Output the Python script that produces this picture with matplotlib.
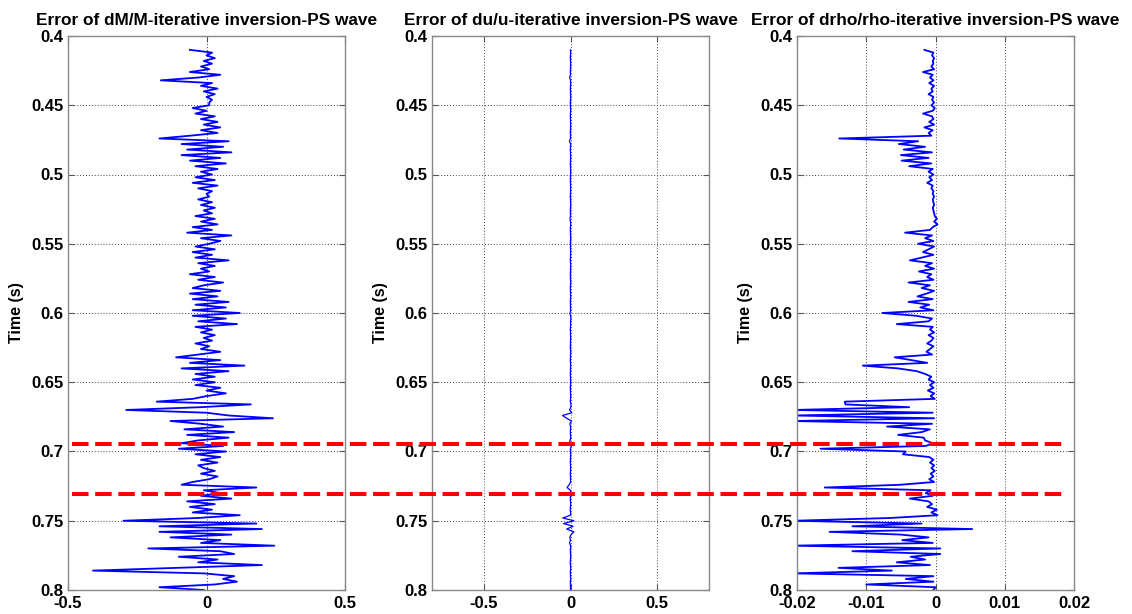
import numpy as np
import matplotlib
matplotlib.use("Agg")
import matplotlib.pyplot as plt
from matplotlib.lines import Line2D
from matplotlib.transforms import blended_transform_factory
from matplotlib.ticker import FormatStrFormatter

plt.rcParams['font.family'] = ['Liberation Sans', 'DejaVu Sans']
plt.rcParams['font.weight'] = 'bold'

t_start = 0.41
t_step = 0.002

titles = ["Error of dM/M-iterative inversion-PS wave",
          "Error of du/u-iterative inversion-PS wave",
          "Error of drho/rho-iterative inversion-PS wave"]

dM_err = [
    -0.06, 0.02, 0.00, 0.03, -0.01, 0.02, -0.02, 0.01, -0.06, 0.05,
    -0.03, -0.165, 0.02, -0.02, 0.04, -0.01, 0.03, 0.00, 0.02, 0.01,
    0.01, -0.05, 0.00, -0.04, 0.03, -0.02, 0.04, -0.01, 0.05, -0.02,
    0.04, -0.06, -0.17, 0.08, -0.09, 0.06, -0.07, 0.09, -0.09, 0.05,
    -0.06, 0.07, -0.04, 0.04, -0.02, 0.02, -0.04, 0.03, -0.05, 0.04,
    -0.03, 0.02, 0.00, 0.01, -0.03, 0.02, -0.02, 0.03, -0.01, 0.02,
    -0.04, 0.03, -0.02, 0.04, -0.05, 0.02, -0.07, 0.09, -0.02, 0.05,
    0.01, -0.04, 0.03, -0.05, 0.02, -0.04, 0.08, -0.03, 0.03, -0.02,
    0.01, -0.06, 0.03, -0.03, 0.06, -0.01, -0.05, 0.05, -0.06, 0.04,
    -0.05, 0.08, -0.04, 0.07, -0.05, 0.12, -0.05, 0.07, -0.03, 0.11,
    -0.04, 0.02, -0.02, 0.03, -0.01, 0.02, -0.04, 0.01, -0.02, 0.05,
    -0.03, -0.11, 0.05, -0.06, 0.137, -0.09, 0.08, -0.04, 0.03, -0.05,
    0.03, -0.04, 0.05, 0.00, 0.07, 0.00, -0.05, -0.18, 0.16, -0.02,
    -0.29, 0.00, 0.08, 0.24, -0.13, -0.02, 0.06, -0.08, 0.10, -0.07,
    0.08, -0.03, -0.09, 0.06, -0.10, 0.07, -0.04, 0.05, -0.02, 0.04,
    -0.03, -0.01, 0.03, -0.02, 0.04, 0.01, -0.05, -0.09, 0.18, -0.01,
    0.05, -0.02, 0.09, -0.07, 0.03, -0.06, 0.02, -0.05, 0.12, -0.03,
    -0.30, 0.18, -0.17, 0.20, -0.17, 0.09, -0.13, 0.05, -0.02, 0.245,
    -0.21, 0.05, 0.10, -0.10, 0.04, -0.03, 0.20, -0.10, -0.41, -0.01,
    0.10, 0.06, 0.11, 0.03, -0.17, -0.01,
]

du_err = [
    0.000, 0.001, 0.000, -0.001, 0.000, 0.001, 0.000, 0.000, -0.001, 0.000,
    -0.005, 0.000, 0.001, 0.000, -0.001, 0.000, 0.000, 0.001, 0.000, -0.001,
    0.000, 0.000, 0.001, 0.000, -0.001, 0.000, 0.000, 0.001, 0.000, 0.000,
    -0.001, 0.000, 0.000, -0.006, 0.001, 0.000, -0.001, 0.000, 0.000, 0.001,
    0.000, -0.001, 0.000, 0.000, 0.001, 0.000, 0.000, -0.001, 0.000, 0.000,
    0.001, 0.000, 0.000, -0.001, 0.000, 0.000, 0.001, 0.000, -0.001, 0.000,
    0.000, -0.003, 0.000, 0.001, 0.000, -0.001, 0.000, 0.000, 0.001, 0.000,
    -0.001, 0.000, 0.000, 0.001, 0.000, 0.000, -0.001, 0.000, 0.001, 0.000,
    0.000, -0.001, 0.000, 0.000, 0.001, 0.000, -0.001, 0.000, 0.000, 0.001,
    0.000, -0.001, 0.000, 0.000, 0.001, -0.003, 0.000, 0.003, 0.000, 0.001,
    0.000, -0.001, 0.000, 0.000, 0.001, 0.000, 0.000, -0.001, 0.000, 0.001,
    0.000, 0.000, -0.001, 0.000, 0.001, 0.000, 0.000, -0.001, 0.000, 0.000,
    0.001, 0.000, -0.001, 0.000, 0.000, 0.001, 0.000, -0.001, 0.003, 0.002,
    -0.006, 0.008, -0.046, -0.022, 0.006, -0.004, 0.001, 0.000, -0.001, 0.000,
    0.001, -0.002, -0.008, 0.004, 0.000, -0.001, 0.001, 0.000, 0.000, -0.001,
    0.000, 0.001, 0.000, -0.001, 0.000, 0.000, 0.001, -0.008, -0.020, 0.000,
    0.002, 0.000, -0.001, 0.000, 0.001, 0.000, -0.002, 0.001, 0.000, -0.045,
    0.020, -0.040, 0.015, -0.022, 0.020, 0.003, -0.004, 0.000, -0.006, 0.001,
    0.000, -0.001, 0.000, 0.001, 0.000, -0.002, 0.000, 0.001, 0.000, -0.001,
    0.000, 0.001, -0.001, 0.000, 0.000, 0.000,
]

# drho/rho error in units of 1e-3
drho_err_milli = [
    -1.6, -0.3, -0.5, -0.2, -0.4, -0.3, -0.6, -0.2, -1.8, -0.4,
    -0.8, -0.3, -0.9, -0.2, -0.6, -0.4, -1.0, -0.3, -0.5, -0.2,
    -0.6, -0.1, -0.4, -1.8, -0.5, -0.3, -0.9, -0.2, -1.6, -0.4,
    -1.0, -0.6, -13.9, -2.5, -5.3, -1.5, -4.6, -0.5, -5.0, -1.0,
    -4.9, -0.6, -3.8, -0.4, -1.0, -0.3, -0.9, -0.5, -1.2, -0.4,
    -0.6, -0.3, -0.4, -0.2, -0.4, -0.3, -0.2, -0.4, -0.3, -0.2,
    -0.1, 0.2, -0.2, 0.3, -0.4, -0.8, -4.4, -0.5, -1.5, -0.3,
    -2.5, -0.2, -1.0, -1.8, -0.3, -2.0, -3.7, -0.5, -1.5, -0.2,
    -2.4, -0.6, -1.2, -0.3, -3.9, -0.8, -2.0, -0.2, -1.3, -2.6,
    -0.4, -3.9, -0.9, -2.2, -0.3, -7.7, -2.8, -0.5, -1.0, -5.6,
    -0.4, -0.8, -0.2, -1.0, -0.3, -0.6, -1.2, -0.3, -0.8, -1.3,
    -0.5, -5.9, -3.5, -1.2, -10.5, -5.4, -2.7, -1.5, -0.6, -1.0,
    -0.2, -0.8, -0.3, -1.1, -0.2, -0.7, -0.1, -13.1, -13.0, -3.8,
    -20.5, -0.4, -20.5, -0.2, -20.5, -0.5, -7.0, -0.8, -2.0, -5.4,
    -1.7, -1.5, -0.4, -1.4, -16.6, -4.3, -4.7, -0.9, -0.3, -0.8,
    -0.2, -0.6, -0.1, -0.7, -0.3, -0.9, -0.2, -5.0, -16.0, -0.7,
    -1.4, -0.4, -3.7, -1.0, -0.5, -1.2, 0.2, -0.6, 0.3, -6.5,
    -20.5, -2.0, -12.0, 5.3, -15.3, -5.0, -1.0, -4.8, -0.4, -20.5,
    0.7, -12.0, 0.7, -3.6, -1.5, -5.6, -0.8, -14.0, -6.3, -20.5,
    -0.3, -4.3, -0.3, -10.0, 0.0, -0.3,
]

boundary_times = [0.6946, 0.7307]

y_ticks = [0.4, 0.45, 0.5, 0.55, 0.6, 0.65, 0.7, 0.75, 0.8]
x_ticks = [[-0.5, 0, 0.5], [-0.5, 0, 0.5], [-0.02, -0.01, 0, 0.01, 0.02]]
x_lims = [(-0.5, 0.5), (-0.8, 0.8), (-0.02, 0.02)]

series = [np.array(dM_err), np.array(du_err), np.array(drho_err_milli) * 1e-3]
line_widths = [1.3, 0.9, 1.3]

W, H = 1132, 614
fig = plt.figure(figsize=(W / 100, H / 100), dpi=100)
lefts = [68, 432, 797]
axes = []
for i in range(3):
    ax = fig.add_axes([lefts[i] / W, 24 / H, 277 / W, 554 / H])
    vals = series[i]
    t = t_start + t_step * np.arange(len(vals))
    ax.plot(vals, t, color='#0000ff', lw=line_widths[i])
    ax.set_xlim(*x_lims[i])
    ax.set_ylim(0.8, 0.4)
    ax.set_xticks(x_ticks[i])
    ax.set_yticks(y_ticks)
    ax.xaxis.set_major_formatter(FormatStrFormatter('%g'))
    ax.yaxis.set_major_formatter(FormatStrFormatter('%g'))
    ax.tick_params(direction='in', top=True, right=True, length=4, width=0.8,
                   labelsize=12, color='#555555', pad=3)
    ax.tick_params(axis='x', pad=4.5)
    for lab in ax.get_xticklabels() + ax.get_yticklabels():
        lab.set_fontweight('bold')
    ax.grid(True, linestyle=(0, (1, 2)), color='#444444', lw=0.7)
    for sp in ax.spines.values():
        sp.set_color('#888888')
        sp.set_linewidth(1.0)
    ax.set_title(titles[i], fontsize=12.4, fontweight='bold', pad=8)
    ax.set_ylabel('Time (s)', fontsize=11.5, fontweight='bold')
    ax.yaxis.set_label_coords(-0.16, 0.5)
    axes.append(ax)

tr = blended_transform_factory(fig.transFigure, axes[0].transData)
for bt in boundary_times:
    fig.add_artist(Line2D([72 / W, 1063 / W], [bt, bt], transform=tr,
                          color='#ff0000', lw=2.9,
                          linestyle=(0, (4.1, 1.65)), zorder=10))

fig.savefig('out.png', dpi=100)
